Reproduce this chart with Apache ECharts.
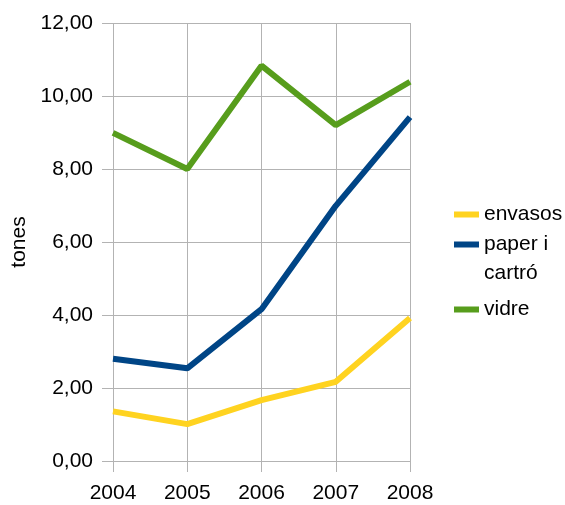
<!DOCTYPE html>
<html><head><meta charset="utf-8">
<script src="https://cdn.jsdelivr.net/npm/echarts@6/dist/echarts.min.js"></script>
<style>html,body{margin:0;padding:0;background:#fff}#c{width:565px;height:505px}</style>
</head><body><div id="c"></div>
<script>
const years = ['2004','2005','2006','2007','2008'];
const envasos = [1.36, 1.01, 1.67, 2.17, 3.92];
const paper = [2.80, 2.54, 4.16, 6.99, 9.42];
const vidre = [8.99, 8.00, 10.83, 9.20, 10.39];
const names = ['envasos', 'paper i cartró', 'vidre'];
const colors = ['#ffd320', '#004586', '#579d1c'];

const chart = echarts.init(document.getElementById('c'));
const font = 'Liberation Sans, Arial, sans-serif';
const gridColor = '#b3b3b3';
const fs = 21;
const legendBase = {
  orient: 'vertical', left: 449, icon: 'rect', itemWidth: 25, itemHeight: 6,
  selectedMode: false,
  textStyle: { fontFamily: font, fontSize: fs, color: '#000', lineHeight: 29 }
};
chart.setOption({
  animation: false,
  color: colors,
  grid: { left: 113, right: 155, top: 23, bottom: 44, containLabel: false, outerBoundsMode: 'none' },
  xAxis: {
    type: 'category', data: years, boundaryGap: false,
    axisLine: { show: false },
    axisTick: { show: true, length: 11, lineStyle: { color: gridColor } },
    splitLine: { show: true, lineStyle: { color: gridColor, width: 1 } },
    axisLabel: { fontFamily: font, fontSize: fs, color: '#000', margin: 22 }
  },
  yAxis: {
    type: 'value', min: 0, max: 12, interval: 2,
    name: 'tones', nameLocation: 'middle', nameRotate: 90, nameGap: 83,
    nameTextStyle: { fontFamily: font, fontSize: fs, color: '#000' },
    axisLine: { show: false },
    axisTick: { show: true, length: 11, lineStyle: { color: gridColor } },
    splitLine: { show: true, lineStyle: { color: gridColor, width: 1 } },
    axisLabel: { fontFamily: font, fontSize: fs, color: '#000', margin: 20,
      formatter: v => v.toFixed(2).replace('.', ',') }
  },
  legend: [
    Object.assign({}, legendBase, { top: 195, data: [names[0]] }),
    Object.assign({}, legendBase, { top: 196, data: [names[1]],
      formatter: () => '\npaper i\ncartró' }),
    Object.assign({}, legendBase, { top: 290, data: [names[2]] })
  ],
  series: [
    { name: names[0], type: 'line', data: envasos, symbol: 'none', lineStyle: { width: 6, color: colors[0] } },
    { name: names[1], type: 'line', data: paper, symbol: 'none', lineStyle: { width: 6, color: colors[1] } },
    { name: names[2], type: 'line', data: vidre, symbol: 'none', lineStyle: { width: 6, color: colors[2] } }
  ]
});
</script></body></html>
